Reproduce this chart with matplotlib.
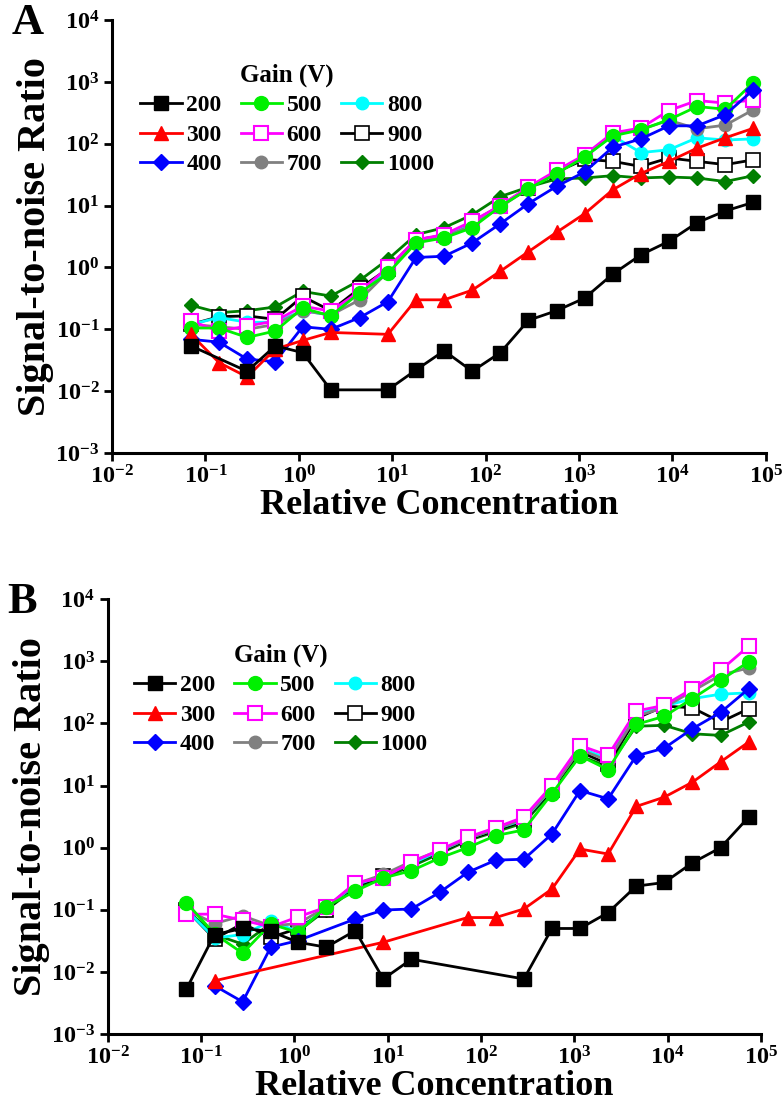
import numpy as np
import matplotlib
matplotlib.use("Agg")
import matplotlib.pyplot as plt

plt.rcParams['font.family'] = ['Liberation Serif', 'DejaVu Serif']
plt.rcParams['font.weight'] = 'bold'
plt.rcParams['mathtext.fontset'] = 'custom'
plt.rcParams['mathtext.rm'] = 'Liberation Serif:bold'
plt.rcParams['mathtext.bf'] = 'Liberation Serif:bold'
plt.rcParams['mathtext.default'] = 'rm'

nan = np.nan

# relative concentration (two-fold dilution series)
conc = [0.07, 0.14, 0.28, 0.56, 1.1, 2.2, 4.5, 9, 18, 36, 72, 144, 288, 576,
        1150, 2300, 4600, 9200, 18400, 36900, 73700]

gains = ['200', '300', '400', '500', '600', '700', '800', '900', '1000']

# panel A
a200 = [0.054, nan, 0.021, 0.054, 0.042, 0.0105, nan, 0.0105, 0.022, 0.045, 0.021,
        0.042, 0.14, 0.2, 0.32, 0.78, 1.6, 2.65, 5.3, 8.2, 11.3]
a300 = [0.083, 0.029, 0.017, 0.048, 0.066, 0.089, nan, 0.083, 0.30, 0.30, 0.43,
        0.87, 1.8, 3.7, 7.4, 18, 33, 52, 85, 125, 178]
a400 = [0.069, 0.062, 0.033, 0.030, 0.11, 0.10, 0.155, 0.28, 1.45, 1.52, 2.5,
        5.1, 10.8, 20.5, 35, 88, 120, 195, 195, 295, 745]
a500 = [0.105, 0.105, 0.074, 0.094, 0.22, 0.165, 0.39, 0.8, 2.5, 3.0, 4.4,
        9.7, 18.6, 33, 61, 134, 168, 245, 400, 362, 975]
a600 = [0.136, 0.094, 0.113, 0.136, 0.237, 0.197, 0.41, 1.0, 2.8, 3.4, 5.6,
        10, 20, 37, 66, 150, 180, 345, 500, 455, 510]
a700 = [0.12, 0.11, 0.1, 0.12, 0.2, 0.17, 0.3, 0.85, 2.6, 3.1, 4.8,
        9.5, 19, 34, 63, 140, 170, 240, 175, 200, 355]
a800 = [0.12, 0.155, 0.13, 0.13, 0.2, 0.17, 0.42, 0.9, 2.7, 3.2, 5.0,
        10, 19, 34, 62, 134, 72, 80, 125, 115, 120]
a900 = [0.12, 0.16, 0.165, 0.145, 0.34, 0.2, 0.46, 0.95, 2.8, 3.3, 5.4,
        10, 19, 35, 56, 52, 43, 59, 52, 46, 55]
a1000 = [0.245, 0.186, 0.2, 0.23, 0.41, 0.345, 0.62, 1.35, 3.4, 4.4, 7.1,
         14, 20, 27, 28, 30.5, 28, 29, 28, 24.5, 30.5]

# panel B
b200 = [0.0053, 0.04, 0.05, 0.045, 0.03, 0.025, 0.046, 0.0077, 0.016, nan, nan,
        nan, 0.0077, 0.05, 0.05, 0.09, 0.24, 0.275, 0.57, 1.0, 3.1]
b300 = [nan, 0.0072, nan, nan, nan, nan, nan, 0.03, nan, nan, 0.075,
        0.075, 0.103, 0.216, 0.95, 0.79, 4.6, 6.5, 11.3, 24, 50]
b400 = [nan, 0.006, 0.0033, 0.025, 0.032, nan, 0.071, 0.099, 0.103, 0.19, 0.4,
        0.63, 0.65, 1.66, 8.3, 6.1, 30, 40, 82, 150, 360]
b500 = [0.13, 0.041, 0.02, 0.059, 0.043, 0.112, 0.2, 0.325, 0.425, 0.68, 1.0,
        1.56, 1.93, 7.4, 30, 18, 96, 130, 250, 495, 975]
b600 = [0.085, 0.085, 0.068, 0.053, 0.077, 0.11, 0.27, 0.33, 0.58, 0.92, 1.47,
        2.1, 3.1, 10, 44, 30.5, 158, 195, 362, 715, 1750]
b700 = [0.1, 0.06, 0.08, 0.055, 0.06, 0.11, 0.26, 0.37, 0.6, 0.9, 1.4,
        2.0, 2.9, 9, 38, 25, 130, 180, 330, 600, 780]
b800 = [0.1, 0.035, 0.04, 0.065, 0.045, 0.11, 0.25, 0.36, 0.55, 0.88, 1.4,
        2.0, 2.8, 9, 40, 27, 140, 190, 250, 295, 310]
b900 = [0.1, 0.034, 0.06, 0.036, 0.05, 0.1, 0.24, 0.35, 0.55, 0.85, 1.35,
        1.9, 2.7, 8.5, 35, 22, 120, 190, 178, 105, 172]
b1000 = [0.1, 0.04, 0.028, 0.06, 0.045, 0.1, 0.22, 0.33, 0.5, 0.8, 1.3,
         1.8, 2.5, 8, 30, 20, 90, 93, 68, 64, 105]

styles = {
    '200': dict(color='black', marker='s', mfc='black', mec='black', ms=9.5),
    '300': dict(color='#ff0000', marker='^', mfc='#ff0000', mec='#ff0000', ms=10),
    '400': dict(color='#0000ff', marker='D', mfc='#0000ff', mec='#0000ff', ms=8),
    '500': dict(color='#00f000', marker='o', mfc='#00f000', mec='#00f000', ms=10),
    '600': dict(color='#ff00ff', marker='s', mfc='white', mec='#ff00ff', ms=10, mew=1.5),
    '700': dict(color='#808080', marker='o', mfc='#808080', mec='#808080', ms=9),
    '800': dict(color='#00ffff', marker='o', mfc='#00ffff', mec='#00ffff', ms=9),
    '900': dict(color='black', marker='s', mfc='white', mec='black', ms=10, mew=1.2),
    '1000': dict(color='#007f00', marker='D', mfc='#007f00', mec='#007f00', ms=7),
}

xt = [1e-2, 1e-1, 1e0, 1e1, 1e2, 1e3, 1e4, 1e5]
xt_labels = ['$10^{-2}$', '$10^{-1}$', '$10^{0}$', '$10^{1}$', '$10^{2}$',
             '$10^{3}$', '$10^{4}$', '$10^{5}$']
yt = [1e-3, 1e-2, 1e-1, 1e0, 1e1, 1e2, 1e3, 1e4]
yt_labels = ['$10^{-3}$', '$10^{-2}$', '$10^{-1}$', '$10^{0}$', '$10^{1}$',
             '$10^{2}$', '$10^{3}$', '$10^{4}$']


def draw_panel(ax, series, letter, leg_anchor):
    x = np.array(conc)
    handles = {}
    # draw high gains first so low gains sit on top
    for g in reversed(gains):
        y = np.array(series[g], dtype=float)
        ok = ~np.isnan(y)
        ln, = ax.plot(x[ok], y[ok], lw=2.0, label=g, **styles[g])
        handles[g] = ln
    ax.set_xscale('log')
    ax.set_yscale('log')
    ax.set_xlim(1e-2, 1e5)
    ax.set_ylim(1e-3, 1e4)
    ax.set_xticks(xt)
    ax.set_xticklabels(xt_labels)
    ax.set_yticks(yt)
    ax.set_yticklabels(yt_labels)
    ax.minorticks_off()
    for s in ['top', 'right']:
        ax.spines[s].set_visible(False)
    for s in ['left', 'bottom']:
        ax.spines[s].set_linewidth(2.2)
    ax.tick_params(axis='both', direction='out', length=6, width=2, labelsize=17.5, pad=3)
    ax.set_xlabel('Relative Concentration', fontsize=26, fontweight='bold', labelpad=0)
    ax.set_ylabel('Signal-to-noise Ratio', fontsize=29, fontweight='bold', labelpad=1)
    leg = ax.legend([handles[g] for g in gains], gains, ncol=3, frameon=False,
                    title='Gain (V)', loc='upper left', bbox_to_anchor=leg_anchor,
                    prop=dict(size=17, weight='bold'), handlelength=1.75,
                    handletextpad=0.2, columnspacing=0.8, labelspacing=0.34,
                    borderaxespad=0)
    leg.get_title().set_fontsize(18)
    leg.get_title().set_fontweight('bold')
    ax.text(-0.153, 1.04, letter, transform=ax.transAxes, fontsize=32,
            fontweight='bold', va='top', ha='left')


fig = plt.figure(figsize=(7.82, 11.15), dpi=100)
axA = fig.add_axes([0.1432, 0.5937, 0.836, 0.3883])
axB = fig.add_axes([0.1375, 0.0726, 0.8357, 0.3901])

seriesA = dict(zip(gains, [a200, a300, a400, a500, a600, a700, a800, a900, a1000]))
seriesB = dict(zip(gains, [b200, b300, b400, b500, b600, b700, b800, b900, b1000]))

draw_panel(axA, seriesA, 'A', (0.029, 0.922))
draw_panel(axB, seriesB, 'B', (0.026, 0.92))

fig.savefig('out.png', dpi=100)
